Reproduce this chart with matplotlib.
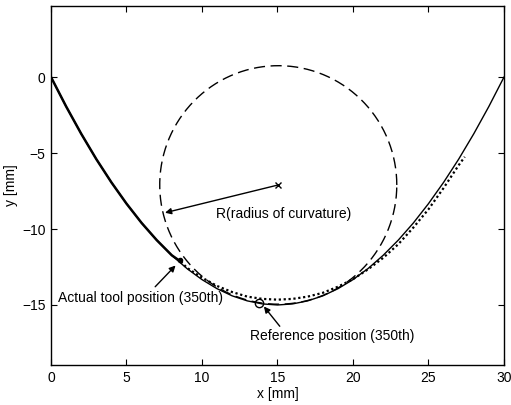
import numpy as np
import matplotlib
matplotlib.use("Agg")
import matplotlib.pyplot as plt

plt.rcParams['font.family'] = ['Liberation Sans', 'DejaVu Sans']

# Reference path (solid)
ref_x = [0, 1, 2, 3, 4, 5, 6, 7, 8, 9, 10, 11, 12, 13, 14, 15,
         16, 17, 18, 19, 20, 21, 22, 23, 24, 25, 26, 27, 28, 29, 30]
ref_y = [0.0, -1.93, -3.73, -5.40, -6.93, -8.33, -9.60, -10.73, -11.73, -12.60,
         -13.33, -13.93, -14.40, -14.73, -14.93, -15.00, -14.93, -14.73, -14.40,
         -13.93, -13.33, -12.60, -11.73, -10.73, -9.60, -8.33, -6.93, -5.40,
         -3.73, -1.93, 0.0]

# Actual tool path travelled so far (bold solid)
act_x = [0, 1, 2, 3, 4, 5, 6, 7, 8, 8.6]
act_y = [0.0, -1.93, -3.73, -5.40, -6.93, -8.33, -9.60, -10.73, -11.73, -12.15]

# Planned / predicted path (dotted)
dot_x = [8.6, 9, 10, 11, 12, 13, 14, 15, 16, 17, 18, 19, 20, 21, 22, 23,
         24, 25, 26, 27, 27.4]
dot_y = [-12.15, -12.55, -13.2, -13.75, -14.15, -14.45, -14.6, -14.65, -14.6,
         -14.45, -14.2, -13.8, -13.3, -12.65, -11.9, -11.0, -9.9, -8.7, -7.3,
         -5.8, -5.25]

# Osculating circle
circ_cx, circ_cy, circ_r = 15.05, -7.1, 7.85
theta = np.linspace(0, 2 * np.pi, 400)

# Points
tool_pt = (8.55, -12.05)
ref_pt = (13.75, -14.85)
r_tip = (7.55, -8.93)

fig = plt.figure(figsize=(5.11, 4.05), dpi=100)
ax = fig.add_axes([0.0998, 0.0988, 0.8865, 0.8872])

ax.plot(ref_x, ref_y, color='black', lw=1.0)
ax.plot(act_x, act_y, color='black', lw=1.8)
ax.plot(dot_x, dot_y, color='black', lw=1.6, linestyle=(0, (1, 1.2)))
ax.plot(circ_cx + circ_r * np.cos(theta), circ_cy + circ_r * np.sin(theta),
        color='black', lw=1.0, linestyle=(0, (8, 4)))
ax.plot([circ_cx], [circ_cy], marker='x', color='black', ms=4, mew=1)
ax.plot([ref_pt[0]], [ref_pt[1]], marker='o', mfc='none', mec='black', ms=6, mew=1)
ax.plot([tool_pt[0]], [tool_pt[1]], marker='o', color='black', ms=3)

ap = dict(arrowstyle='-|>', color='black', lw=1.0, mutation_scale=9, shrinkA=0, shrinkB=0)
ax.annotate('', xy=r_tip, xytext=(circ_cx, circ_cy), arrowprops=ap)
ax.annotate('', xy=(8.25, -12.4), xytext=(6.9, -13.8), arrowprops=ap)
ax.annotate('', xy=(14.1, -15.1), xytext=(15.15, -16.4), arrowprops=ap)

ax.text(10.9, -9.0, 'R(radius of curvature)', fontsize=10, ha='left', va='center')
ax.text(0.45, -14.55, 'Actual tool position (350th)', fontsize=10, ha='left', va='center')
ax.text(13.15, -17.05, 'Reference position (350th)', fontsize=10, ha='left', va='center')

ax.set_xlim(0, 30)
ax.set_ylim(-18.95, 4.7)
ax.set_xticks([0, 5, 10, 15, 20, 25, 30])
ax.set_yticks([-15, -10, -5, 0])
ax.tick_params(direction='in', top=True, right=True, length=4, labelsize=10, pad=4)
ax.set_xlabel('x [mm]', fontsize=10, labelpad=2)
ax.set_ylabel('y [mm]', fontsize=10, labelpad=3)
for s in ax.spines.values():
    s.set_linewidth(1.0)

fig.savefig('out.png', dpi=100)
